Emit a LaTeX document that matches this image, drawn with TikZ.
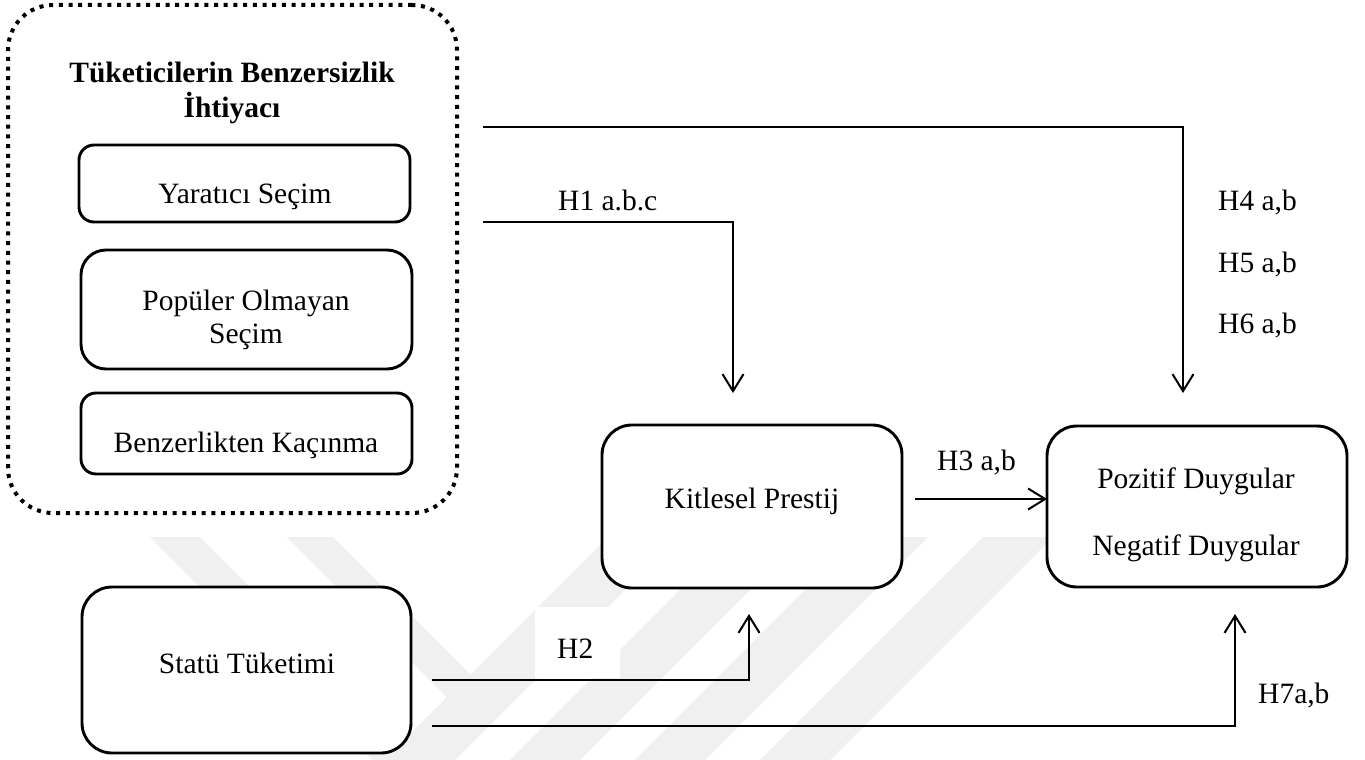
\documentclass[tikz,border=0pt]{standalone}
\usepackage{fontspec}
\setmainfont{Liberation Serif}
\usetikzlibrary{arrows.meta}
\begin{document}
\begin{tikzpicture}[x=1pt,y=-1pt,
  box/.style={draw, line width=2.9pt, fill=white, inner sep=0pt, outer sep=0pt},
  txt/.style={anchor=base, inner sep=0pt, font=\fontsize{29.5}{33}\selectfont},
  lbl/.style={anchor=base west, inner sep=0pt, font=\fontsize{29.5}{33}\selectfont},
  conn/.style={line width=2pt, -{Straight Barb[length=17pt,width=21pt,line width=2pt]}},
  wm/.style={fill=black!6, draw=none}]
\useasboundingbox (0,0) rectangle (1365,760);
\fill[white] (0,0) rectangle (1365,760);
% faint watermark
\begin{scope}
  \clip (0,537) rectangle (1365,760);
  \fill[wm] (150,537) -- (200,537) -- (423,760) -- (373,760) -- cycle;
  \fill[wm] (287,537) -- (333,537) -- (493,697) -- (430,760) -- (384,760) -- (447,697) -- cycle;
  \fill[wm] (608,537) -- (678,537) -- (455,760) -- (385,760) -- cycle;
  \fill[wm] (733,537) -- (803,537) -- (580,760) -- (510,760) -- cycle;
  \fill[wm] (858,537) -- (928,537) -- (705,760) -- (635,760) -- cycle;
  \fill[wm] (983,537) -- (1053,537) -- (830,760) -- (760,760) -- cycle;
\end{scope}
% outer dotted group
\node[draw, line width=4pt, dash pattern=on 4pt off 5.7pt, rounded corners=45pt,
  minimum width=449pt, minimum height=508pt, inner sep=0pt] (grp) at (232.5,259) {};
\node[txt, font=\fontsize{29.5}{33}\selectfont\bfseries] (t1) at (232,82) {Tüketicilerin Benzersizlik};
\node[txt, font=\fontsize{29.5}{33}\selectfont\bfseries] (t2) at (232,117) {İhtiyacı};
% sub boxes
\node[box, rounded corners=15pt, minimum width=331pt, minimum height=77pt] (yar) at (244.5,183.5) {};
\node[txt] (yart) at (245,203) {Yaratıcı Seçim};
\node[box, rounded corners=25pt, minimum width=331pt, minimum height=119pt] (pop) at (246.5,309.5) {};
\node[txt] (popt1) at (246,310) {Popüler Olmayan};
\node[txt] (popt2) at (246,343) {Seçim};
\node[box, rounded corners=15pt, minimum width=331pt, minimum height=81pt] (ben) at (246.5,433.5) {};
\node[txt] (bent) at (246,452) {Benzerlikten Kaçınma};
% main boxes
\node[box, rounded corners=30pt, minimum width=329pt, minimum height=166pt] (stat) at (246.5,670) {};
\node[txt] (statt) at (247,673) {Statü Tüketimi};
\node[box, rounded corners=30pt, minimum width=300pt, minimum height=163pt] (kit) at (752,506.5) {};
\node[txt] (kitt) at (752,508) {Kitlesel Prestij};
\node[box, rounded corners=30pt, minimum width=300pt, minimum height=161pt] (poz) at (1197,506.5) {};
\node[txt] (pozt) at (1196,488) {Pozitif Duygular};
\node[txt] (negt) at (1196,555) {Negatif Duygular};
% connectors
\coordinate (c4s) at (483,127);
\coordinate (c4e) at (1183,393);
\draw[conn] (c4s) -| (c4e);
\coordinate (c1s) at (483,222);
\coordinate (c1e) at (733,393);
\draw[conn] (c1s) -| (c1e);
\coordinate (c3s) at (915,499);
\draw[conn] (c3s) -- (c3s -| poz.west);
\coordinate (c2s) at (432,680);
\coordinate (c2e) at (749,614);
\coordinate (c7s) at (432,726);
\coordinate (c7e) at (1235,614);
% H2 label backdrop
\fill[white] (535,607) rectangle (620,678);
\draw[conn] (c2s) -| (c2e);
\draw[conn] (c7s) -| (c7e);
% labels
\node[lbl] (h1) at (558,210) {H1 a.b.c};
\node[lbl] (h4) at (1218,210) {H4 a,b};
\node[lbl] (h5) at (1218,272) {H5 a,b};
\node[lbl] (h6) at (1218,333) {H6 a,b};
\node[lbl] (h3) at (937,470) {H3 a,b};
\node[lbl] (h2) at (557,658) {H2};
\node[lbl] (h7) at (1258,703) {H7a,b};
\end{tikzpicture}
\end{document}
